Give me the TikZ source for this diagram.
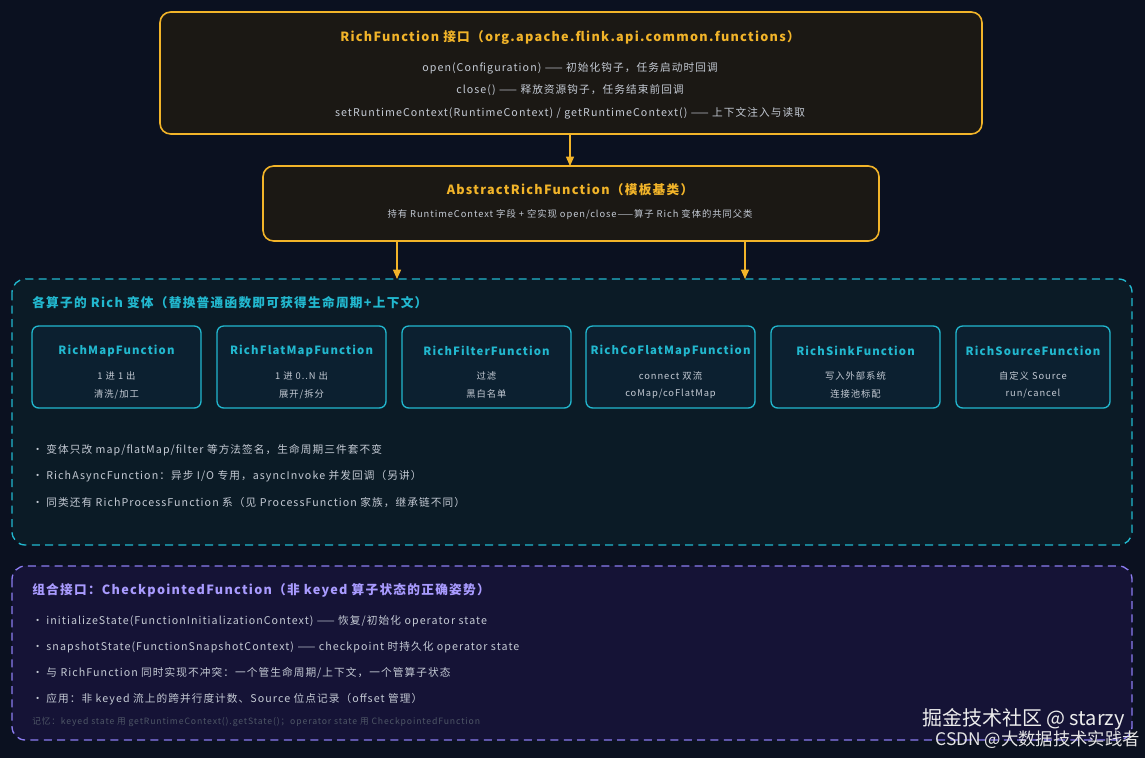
\documentclass[tikz,border=0pt]{standalone}
\usepackage{fontspec}
\setmainfont{Noto Sans CJK SC}[LetterSpace=10]
\newfontfamily\markfont{Noto Sans CJK SC}
\usepackage{xcolor}
\usetikzlibrary{positioning, arrows.meta}
\definecolor{bgnavy}{HTML}{0B1120}
\definecolor{goldline}{HTML}{F2B429}
\definecolor{goldfill}{HTML}{1B1814}
\definecolor{cyanline}{HTML}{22B8CF}
\definecolor{cyanfill}{HTML}{0B1B26}
\definecolor{cardfill}{HTML}{0C2030}
\definecolor{violetline}{HTML}{8B7CF0}
\definecolor{violetfill}{HTML}{151336}
\definecolor{violettext}{HTML}{A99BFF}
\definecolor{bodytext}{HTML}{C4CAD4}
\definecolor{dimtext}{HTML}{4E5666}
\tikzset{
  body/.style={text=bodytext, font=\fontsize{8}{9}\selectfont, inner sep=0pt},
  bullet/.style={body, anchor=west},
  goldtitle/.style={text=goldline, font=\bfseries\fontsize{9.5}{11}\selectfont, inner sep=0pt},
  cardtitle/.style={text=cyanline, font=\bfseries\fontsize{8.5}{10}\selectfont, inner sep=0pt},
  card/.style={draw=cyanline, fill=cardfill, line width=1pt, rounded corners=5pt},
  flow/.style={goldline, line width=1pt, -{Triangle[length=7pt, width=6pt]}}
}
\begin{document}
\begin{tikzpicture}[x=0.75pt, y=-0.75pt]
  \fill[bgnavy] (0,0) rectangle (1145,758);
  \useasboundingbox (0,0) rectangle (1145,758);
  % interface
  \draw[goldline, fill=goldfill, line width=1.2pt, rounded corners=8pt] (160,12) rectangle (982,134);
  \coordinate (ifaceS) at (570,134);
  \node[goldtitle] at (570,38) {RichFunction 接口（org.apache.flink.api.common.functions）};
  \node[body] at (570,68) {open(Configuration) —— 初始化钩子，任务启动时回调};
  \node[body] at (570,90) {close() —— 释放资源钩子，任务结束前回调};
  \node[body] at (570,113) {setRuntimeContext(RuntimeContext) / getRuntimeContext() —— 上下文注入与读取};
  % abstract base
  \draw[goldline, fill=goldfill, line width=1.2pt, rounded corners=8pt] (263,166) rectangle (879,241);
  \coordinate (baseN) at (570,166);
  \coordinate (baseL) at (397,241);
  \coordinate (baseR) at (745,241);
  \node[goldtitle] at (570,190) {AbstractRichFunction（模板基类）};
  \node[body, font=\fontsize{7}{8}\selectfont] at (570,215) {持有 RuntimeContext 字段 + 空实现 open/close——算子 Rich 变体的共同父类};
  \draw[flow] (ifaceS) -- (baseN);
  % rich variants
  \draw[cyanline, fill=cyanfill, line width=1pt, dashed, dash pattern=on 6pt off 4pt, rounded corners=10pt] (12,279) rectangle (1132,545);
  \coordinate (richL) at (397,279);
  \coordinate (richR) at (745,279);
  \draw[flow] (baseL) -- (richL);
  \draw[flow] (baseR) -- (richR);
  \node[anchor=west, text=cyanline, font=\bfseries\fontsize{9.5}{11}\selectfont, inner sep=0pt] at (32,303) {各算子的 Rich 变体（替换普通函数即可获得生命周期+上下文）};
  \foreach \x/\w/\name/\la/\lb in {
      32/169/RichMapFunction/1 进 1 出/{清洗/加工},
      217/169/RichFlatMapFunction/1 进 0..N 出/{展开/拆分},
      402/169/RichFilterFunction/过滤/黑白名单,
      586/169/RichCoFlatMapFunction/connect 双流/{coMap/coFlatMap},
      771/169/RichSinkFunction/写入外部系统/连接池标配,
      956/154/RichSourceFunction/自定义 Source/{run/cancel}} {
    \draw[card] (\x,326) rectangle ++(\w,82);
    \node[cardtitle] at (\x+\w/2,351) {\name};
    \node[body, font=\fontsize{7}{8}\selectfont] at (\x+\w/2,376) {\la};
    \node[body, font=\fontsize{7}{8}\selectfont] at (\x+\w/2,394) {\lb};
  }
  \node[bullet] at (32,450) {· 变体只改 map/flatMap/filter 等方法签名，生命周期三件套不变};
  \node[bullet] at (32,476) {· RichAsyncFunction：异步 I/O 专用，asyncInvoke 并发回调（另讲）};
  \node[bullet] at (32,502) {· 同类还有 RichProcessFunction 系（见 ProcessFunction 家族，继承链不同）};
  % checkpointed
  \draw[violetline, fill=violetfill, line width=1pt, dashed, dash pattern=on 6pt off 4pt, rounded corners=10pt] (12,566) rectangle (1132,740);
  \node[anchor=west, text=violettext, font=\bfseries\fontsize{9.5}{11}\selectfont, inner sep=0pt] at (32,590) {组合接口：CheckpointedFunction（非 keyed 算子状态的正确姿势）};
  \node[bullet] at (32,621) {· initializeState(FunctionInitializationContext) —— 恢复/初始化 operator state};
  \node[bullet] at (32,647) {· snapshotState(FunctionSnapshotContext) —— checkpoint 时持久化 operator state};
  \node[bullet] at (32,673) {· 与 RichFunction 同时实现不冲突：一个管生命周期/上下文，一个管算子状态};
  \node[bullet] at (32,699) {· 应用：非 keyed 流上的跨并行度计数、Source 位点记录（offset 管理）};
  \node[bullet, text=dimtext, font=\fontsize{6.5}{7}\selectfont] at (32,722) {记忆：keyed state 用 getRuntimeContext().getState()；operator state 用 CheckpointedFunction};
  % watermark
  \node[anchor=east, text=white!85!gray, font=\markfont\fontsize{15}{17}\selectfont, inner sep=0pt] at (1125,719) {掘金技术社区 @ starzy};
  \node[anchor=east, text=white!80!gray, font=\markfont\fontsize{13}{15}\selectfont, inner sep=0pt] at (1140,740) {CSDN @大数据技术实践者};
\end{tikzpicture}
\end{document}
